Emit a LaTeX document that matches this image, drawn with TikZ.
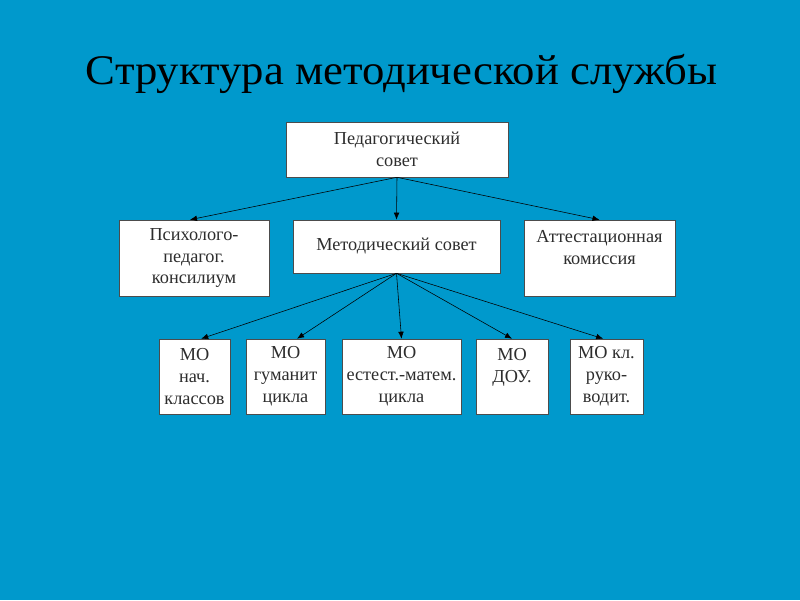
\documentclass[tikz,border=0pt]{standalone}
\usepackage{fontspec}
\setmainfont{Liberation Serif}
\newfontfamily\titlefont[FakeStretch=1.06]{Liberation Serif}
\usetikzlibrary{arrows.meta}
\definecolor{slide}{RGB}{0,153,204}
\definecolor{ink}{RGB}{45,45,45}
\begin{document}
\begin{tikzpicture}[x=0.025cm,y=-0.025cm,
  box/.style={draw=black!70, fill=white, rectangle, align=center, inner sep=2pt,
    text=ink, font=\fontsize{13}{15.6}\selectfont},
  link/.style={-{Latex[length=5pt,width=4pt]}, black, thin}]
\fill[slide] (0,0) rectangle (800,600);
\useasboundingbox (0,0) rectangle (800,600);
\node[text=black, anchor=base, inner sep=0pt, font=\titlefont\fontsize{30}{36}\selectfont] (t) at (401.5,84) {Структура методической службы};
% top level
\node[box, minimum width=222*0.025cm, minimum height=55*0.025cm] (ps) at (397,149.5) {Педагогический\\совет};
% second level
\node[box, minimum width=150*0.025cm, minimum height=76*0.025cm] (pk) at (194,258) {Психолого-\\педагог.\\консилиум};
\node[box, minimum width=207*0.025cm, minimum height=53*0.025cm] (ms) at (396.5,246.5) {Методический совет};
\node[box, minimum width=151*0.025cm, minimum height=76*0.025cm] (ak) at (599.5,258) {Аттестационная\\комиссия\\\mbox{}};
% third level
\node[box, minimum width=71*0.025cm, minimum height=75*0.025cm] (n) at (194.5,376.5) {МО\\нач.\\классов};
\node[box, minimum width=79*0.025cm, minimum height=75*0.025cm] (g) at (285.5,376.5) {МО\\гуманит\\цикла};
\node[box, minimum width=119*0.025cm, minimum height=75*0.025cm] (e) at (401.5,376.5) {МО\\естест.-матем.\\цикла};
\node[box, minimum width=72*0.025cm, minimum height=75*0.025cm] (d) at (512,376.5) {МО\\ДОУ.\\\mbox{}};
\node[box, minimum width=73*0.025cm, minimum height=75*0.025cm] (r) at (606.5,376.5) {МО кл.\\руко-\\водит.};
\draw[link] (ps.south) -- (pk.96);
\draw[link] (ps.south) -- (ms.north);
\draw[link] (ps.south) -- (ak.north);
\draw[link] (ms.south) -- (n.80);
\draw[link] (ms.south) -- (g.73);
\draw[link] (ms.south) -- (e.north);
\draw[link] (ms.south) -- (d.north);
\draw[link] (ms.south) -- (r.95);
\end{tikzpicture}
\end{document}
